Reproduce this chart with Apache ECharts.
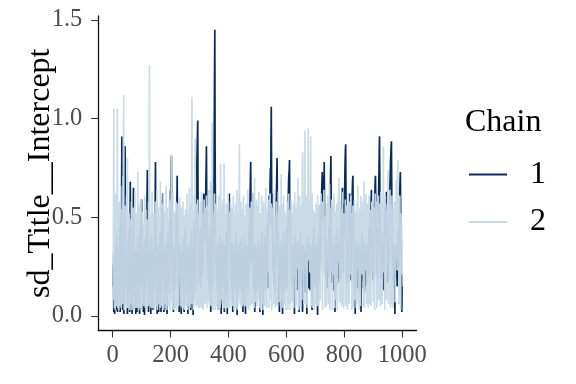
<!DOCTYPE html>
<html>
<head>
<meta charset="utf-8">
<script src="https://cdn.jsdelivr.net/npm/echarts@6/dist/echarts.min.js"></script>
<style>html,body{margin:0;padding:0;background:#fff}#c{width:576px;height:384px}</style>
</head>
<body>
<div id="c"></div>
<script>
var chainNames = ['1', '2'];
var yTicks = [0, 0.5, 1, 1.5];
var xTicks = [0, 200, 400, 600, 800, 1000];
var yTitle = 'sd_Title__Intercept';
var legendTitle = 'Chain';

var chain1 = [
0.15,0.27,0.22,0.02,0.31,0.19,0.01,0.12,0.24,0.36,0.18,0.03,0.28,0.41,0.22,0.13,0.02,0.19,0.33,0.25,
0.11,0.17,0.29,0.45,0.21,0.02,0.14,0.38,0.52,0.31,0.62,0.91,0.34,0.18,0.03,0.23,0.35,0.16,0.01,0.27,
0.48,0.66,0.86,0.55,0.33,0.21,0.12,0.19,0.29,0.14,0.01,0.25,0.37,0.22,0.11,0.31,0.44,0.19,0.02,0.42,
0.68,0.35,0.17,0.23,0.12,0.29,0.01,0.18,0.26,0.39,0.51,0.65,0.31,0.14,0.22,0.03,0.34,0.27,0.16,0.01,
0.21,0.33,0.18,0.02,0.25,0.41,0.29,0.13,0.24,0.36,0.19,0.11,0.01,0.28,0.45,0.22,0.15,0.38,0.53,0.59,
0.47,0.26,0.14,0.31,0.19,0.02,0.23,0.35,0.17,0.005,0.26,0.39,0.21,0.12,0.33,0.18,0.27,0.44,0.61,0.74,
0.52,0.29,0.16,0.02,0.24,0.32,0.19,0.11,0.27,0.38,0.22,0.01,0.17,0.29,0.41,0.26,0.14,0.34,0.21,0.03,
0.18,0.31,0.24,0.13,0.36,0.47,0.58,0.78,0.55,0.33,0.19,0.26,0.12,0.01,0.22,0.35,0.28,0.16,0.02,0.23,
0.31,0.18,0.27,0.42,0.25,0.14,0.02,0.21,0.34,0.48,0.29,0.55,0.62,0.38,0.23,0.16,0.02,0.27,0.19,0.33,
0.24,0.12,0.29,0.37,0.21,0.03,0.26,0.01,0.18,0.31,0.43,0.27,0.15,0.22,0.36,0.19,0.11,0.28,0.46,0.64,
0.58,0.72,0.81,0.49,0.32,0.21,0.14,0.26,0.18,0.02,0.24,0.35,0.28,0.16,0.31,0.22,0.13,0.37,0.45,0.52,
0.39,0.58,0.71,0.44,0.27,0.15,0.23,0.34,0.19,0.02,0.26,0.37,0.21,0.12,0.29,0.18,0.01,0.24,0.33,0.27,
0.16,0.22,0.31,0.39,0.26,0.14,0.02,0.29,0.36,0.41,0.43,0.45,0.32,0.19,0.24,0.11,0.28,0.36,0.21,0.01,
0.17,0.26,0.33,0.18,0.29,0.12,0.24,0.37,0.21,0.03,0.31,0.44,0.27,0.15,0.23,0.35,0.19,0.005,0.26,0.32,
0.48,0.29,0.17,0.25,0.36,0.22,0.13,0.41,0.56,0.68,0.77,0.84,0.92,0.99,0.63,0.38,0.21,0.29,0.16,0.34,
0.27,0.19,0.45,0.31,0.14,0.23,0.37,0.26,0.41,0.52,0.33,0.47,0.21,0.58,0.62,0.49,0.55,0.44,0.61,0.38,
0.52,0.67,0.74,0.86,0.59,0.34,0.22,0.47,0.31,0.18,0.26,0.39,0.24,0.13,0.35,0.28,0.45,0.19,0.02,0.27,
0.33,0.51,0.66,0.42,0.25,0.14,0.29,0.38,0.61,0.72,0.95,1.21,1.45,0.84,0.56,0.31,0.22,0.17,0.26,0.34,
0.21,0.12,0.28,0.37,0.19,0.03,0.25,0.33,0.18,0.27,0.41,0.23,0.14,0.31,0.01,0.22,0.36,0.29,0.17,0.24,
0.38,0.26,0.15,0.33,0.21,0.02,0.27,0.36,0.19,0.12,0.28,0.43,0.24,0.16,0.32,0.01,0.21,0.35,0.48,0.56,
0.44,0.59,0.62,0.51,0.57,0.39,0.27,0.18,0.31,0.22,0.13,0.26,0.37,0.19,0.02,0.24,0.33,0.21,0.15,0.29,
0.36,0.22,0.14,0.27,0.18,0.31,0.42,0.25,0.11,0.005,0.23,0.34,0.19,0.28,0.16,0.37,0.24,0.13,0.29,0.21,
0.33,0.17,0.26,0.39,0.22,0.12,0.28,0.35,0.19,0.02,0.24,0.31,0.18,0.27,0.41,0.23,0.14,0.32,0.01,0.25,
0.19,0.28,0.36,0.21,0.15,0.33,0.24,0.11,0.29,0.38,0.45,0.31,0.22,0.49,0.62,0.71,0.78,0.54,0.36,0.27,
0.41,0.57,0.62,0.48,0.33,0.21,0.14,0.26,0.35,0.19,0.02,0.28,0.37,0.23,0.16,0.31,0.24,0.12,0.29,0.35,
0.21,0.14,0.27,0.38,0.19,0.25,0.33,0.17,0.02,0.24,0.36,0.28,0.15,0.22,0.31,0.43,0.26,0.18,0.005,0.23,
0.34,0.27,0.16,0.29,0.41,0.25,0.13,0.22,0.37,0.31,0.19,0.28,0.46,0.33,0.21,0.14,0.39,0.52,0.44,0.58,
0.61,0.47,0.55,0.68,0.75,0.63,0.88,1.06,0.72,0.45,0.62,0.54,0.31,0.22,0.38,0.27,0.15,0.29,0.36,0.21,
0.12,0.26,0.34,0.48,0.57,0.63,0.71,0.80,0.59,0.37,0.24,0.42,0.31,0.18,0.27,0.02,0.33,0.25,0.16,0.29,
0.38,0.22,0.14,0.31,0.26,0.19,0.01,0.27,0.35,0.43,0.24,0.16,0.33,0.21,0.12,0.28,0.37,0.19,0.26,0.31,
0.45,0.36,0.22,0.14,0.29,0.51,0.62,0.69,0.72,0.74,0.79,0.47,0.41,0.52,0.38,0.27,0.18,0.33,0.24,0.15,
0.29,0.36,0.21,0.12,0.27,0.34,0.19,0.01,0.26,0.32,0.41,0.23,0.17,0.28,0.35,0.21,0.13,0.29,0.38,0.24,
0.16,0.31,0.22,0.02,0.27,0.35,0.18,0.25,0.43,0.31,0.19,0.26,0.14,0.33,0.22,0.02,0.29,0.36,0.21,0.15,
0.28,0.34,0.19,0.27,0.12,0.31,0.24,0.17,0.36,0.23,0.01,0.29,0.41,0.26,0.18,0.32,0.22,0.14,0.27,0.37,
0.21,0.13,0.28,0.35,0.19,0.26,0.34,0.22,0.03,0.29,0.38,0.24,0.15,0.31,0.46,0.27,0.18,0.33,0.24,0.16,
0.29,0.37,0.21,0.14,0.28,0.35,0.19,0.005,0.26,0.33,0.41,0.25,0.17,0.31,0.22,0.47,0.56,0.38,0.27,0.44,
0.53,0.61,0.68,0.73,0.58,0.49,0.64,0.71,0.55,0.62,0.78,0.52,0.37,0.29,0.41,0.24,0.18,0.33,0.26,0.14,
0.31,0.22,0.38,0.27,0.19,0.34,0.46,0.29,0.21,0.36,0.52,0.64,0.73,0.81,0.58,0.34,0.25,0.17,0.29,0.38,
0.24,0.13,0.31,0.27,0.19,0.35,0.22,0.02,0.28,0.41,0.33,0.21,0.15,0.26,0.34,0.45,0.31,0.19,0.27,0.23,
0.36,0.29,0.17,0.24,0.35,0.43,0.28,0.19,0.37,0.51,0.58,0.46,0.62,0.65,0.41,0.33,0.22,0.48,0.57,0.39,
0.52,0.69,0.78,0.84,0.87,0.61,0.42,0.31,0.23,0.16,0.28,0.37,0.24,0.19,0.32,0.55,0.48,0.59,0.62,0.51,
0.44,0.36,0.27,0.18,0.31,0.46,0.58,0.64,0.69,0.71,0.53,0.38,0.25,0.14,0.29,0.36,0.22,0.01,0.27,0.34,
0.19,0.26,0.38,0.22,0.14,0.31,0.27,0.18,0.35,0.24,0.12,0.29,0.37,0.21,0.16,0.33,0.26,0.02,0.24,0.31,
0.42,0.27,0.18,0.35,0.23,0.14,0.29,0.38,0.21,0.12,0.26,0.34,0.19,0.28,0.36,0.22,0.15,0.31,0.24,0.17,
0.33,0.26,0.38,0.21,0.45,0.31,0.19,0.27,0.36,0.48,0.55,0.51,0.59,0.64,0.42,0.29,0.22,0.35,0.27,0.18,
0.24,0.36,0.47,0.58,0.52,0.63,0.69,0.71,0.54,0.39,0.27,0.21,0.44,0.36,0.28,0.19,0.33,0.52,0.65,0.73,
0.84,0.91,0.68,0.47,0.36,0.28,0.19,0.31,0.24,0.42,0.35,0.22,0.14,0.29,0.37,0.21,0.13,0.28,0.46,0.55,
0.41,0.52,0.58,0.61,0.49,0.63,0.44,0.31,0.23,0.17,0.34,0.26,0.19,0.38,0.27,0.48,0.57,0.66,0.72,0.78,
0.82,0.86,0.885,0.67,0.45,0.33,0.24,0.18,0.29,0.37,0.21,0.14,0.32,0.26,0.01,0.23,0.35,0.28,0.19,0.27,
0.36,0.22,0.15,0.31,0.43,0.27,0.18,0.34,0.25,0.47,0.56,0.64,0.69,0.73,0.52,0.38,0.26,0.19,0.02,0.15
];

var chain2 = [
0.32,0.08,0.57,1.05,0.41,0.04,0.26,0.48,0.03,0.35,0.62,0.21,0.05,0.44,0.29,1.05,0.38,0.04,0.52,0.24,
0.03,0.37,0.58,0.06,0.43,0.05,0.31,0.66,0.22,0.04,0.39,0.27,0.54,0.06,0.46,0.71,0.33,1.12,0.25,0.03,
0.42,0.06,0.56,0.31,0.05,0.38,0.24,0.61,0.04,0.47,0.80,0.28,0.04,0.41,0.33,0.08,0.52,0.26,0.03,0.36,
0.23,0.49,0.06,0.37,0.58,0.21,0.03,0.43,0.29,0.05,0.55,0.34,0.06,0.46,0.03,0.31,0.63,0.24,0.04,0.39,
0.27,0.52,0.07,0.41,0.04,0.34,0.73,0.22,0.48,0.03,0.36,0.57,0.25,0.04,0.44,0.31,0.08,0.59,0.27,0.03,
0.38,0.21,0.53,0.06,0.42,0.29,0.05,0.47,0.33,0.08,0.61,0.25,0.04,0.39,0.54,0.22,0.03,0.45,0.31,0.07,
0.49,0.27,0.05,0.58,0.36,0.06,1.27,0.43,0.24,0.05,0.51,0.32,0.04,0.46,0.28,0.63,0.21,0.04,0.41,0.34,
0.05,0.52,0.26,0.03,0.44,0.31,0.58,0.06,0.37,0.05,0.48,0.25,0.64,0.33,0.03,0.42,0.21,0.55,0.29,0.06,
0.39,0.23,0.51,0.04,0.68,0.34,0.08,0.45,0.05,0.36,0.57,0.24,0.41,0.03,0.62,0.28,0.04,0.47,0.32,0.06,
0.53,0.26,0.06,0.43,0.66,0.22,0.03,0.38,0.55,0.05,0.31,0.49,0.05,0.44,0.27,0.59,0.21,0.03,0.41,0.33,
0.08,0.56,0.82,0.29,0.45,0.04,0.37,0.62,0.24,0.03,0.48,0.31,0.07,0.53,0.27,0.42,0.04,0.35,0.58,0.22,
0.03,0.46,0.29,0.57,0.08,0.39,0.05,0.52,0.34,0.21,0.44,0.60,0.26,0.05,0.48,0.31,0.55,0.05,0.38,0.04,
0.43,0.27,0.58,0.04,0.36,0.51,0.22,0.03,0.47,0.33,0.06,0.54,0.28,0.41,0.05,0.37,0.62,0.24,0.03,0.45,
0.31,0.05,0.52,0.38,0.65,0.23,0.04,0.46,0.29,0.57,0.06,0.41,0.74,1.11,0.36,0.06,0.53,0.27,0.03,0.44,
0.33,0.61,0.08,0.49,0.90,0.26,0.05,0.57,0.38,0.21,0.45,0.05,0.34,0.59,0.24,0.41,0.04,0.52,0.29,0.04,
0.46,0.31,0.58,0.05,0.39,0.26,0.63,0.04,0.44,0.33,0.52,0.21,0.03,0.47,0.36,0.59,0.24,0.41,0.06,0.55,
0.29,0.43,0.08,0.61,0.35,0.04,0.48,0.27,0.56,0.07,0.39,0.64,0.22,0.45,0.05,0.53,0.31,0.68,0.25,0.41,
0.05,0.58,0.34,0.98,0.47,0.21,0.03,0.52,0.36,0.06,0.44,0.62,0.28,0.03,0.49,0.33,0.57,0.22,0.05,0.41,
0.35,0.54,0.06,0.46,0.27,0.61,0.03,0.38,0.52,0.24,0.04,0.45,0.77,0.31,0.08,0.56,0.28,0.42,0.06,0.36,
0.59,0.23,0.47,0.04,0.77,0.34,0.06,0.51,0.28,0.03,0.43,0.32,0.57,0.21,0.38,0.04,0.49,0.26,0.62,0.05,
0.37,0.53,0.22,0.44,0.04,0.31,0.58,0.27,0.46,0.07,0.39,0.55,0.21,0.05,0.48,0.33,0.61,0.24,0.41,0.03,
0.52,0.28,0.36,0.06,0.57,0.04,0.43,0.32,0.64,0.24,0.03,0.47,0.35,0.53,0.08,0.41,0.66,0.87,0.29,0.06,
0.45,0.31,0.58,0.22,0.04,0.49,0.36,0.05,0.54,0.28,0.43,0.61,0.06,0.38,0.05,0.51,0.26,0.44,0.05,0.34,
0.57,0.23,0.42,0.04,0.53,0.31,0.64,0.08,0.39,0.03,0.47,0.29,0.55,0.21,0.36,0.05,0.49,0.33,0.58,0.26,
0.06,0.45,0.62,0.31,0.06,0.54,0.27,0.41,0.04,0.70,0.38,0.22,0.51,0.07,0.43,0.33,0.59,0.24,0.05,0.46,
0.35,0.08,0.56,0.29,0.63,0.21,0.44,0.04,0.38,0.52,0.27,0.03,0.47,0.34,0.61,0.06,0.42,0.26,0.55,0.03,
0.39,0.58,0.24,0.46,0.05,0.33,0.51,0.28,0.65,0.05,0.43,0.31,0.04,0.54,0.36,0.22,0.48,0.59,0.27,0.41,
0.04,0.53,0.34,0.62,0.23,0.44,0.08,0.57,0.31,0.03,0.46,0.37,0.21,0.55,0.29,0.64,0.06,0.42,0.26,0.51,
0.33,0.04,0.47,0.24,0.58,0.36,0.06,0.52,0.05,0.41,0.28,0.63,0.22,0.45,0.34,0.07,0.56,0.29,0.43,0.05,
0.38,0.72,0.25,0.49,0.08,0.57,0.31,0.04,0.44,0.36,0.61,0.23,0.47,0.06,0.53,0.28,0.39,0.03,0.51,0.32,
0.21,0.46,0.58,0.27,0.03,0.41,0.35,0.62,0.06,0.48,0.29,0.54,0.03,0.37,0.44,0.23,0.59,0.31,0.07,0.45,
0.52,0.26,0.38,0.04,0.57,0.34,0.21,0.49,0.63,0.28,0.04,0.43,0.36,0.55,0.05,0.41,0.24,0.58,0.32,0.70,
0.27,0.44,0.03,0.52,0.35,0.61,0.22,0.48,0.05,0.39,0.56,0.29,0.43,0.08,0.65,0.83,0.37,0.24,0.51,0.31,
0.06,0.47,0.68,0.94,0.42,0.26,0.55,0.06,0.38,0.61,0.33,0.04,0.46,0.57,0.72,0.95,0.41,0.28,0.53,0.36,
0.22,0.58,0.44,0.91,0.35,0.05,0.49,0.27,0.62,0.38,0.04,0.45,0.31,0.54,0.24,0.41,0.03,0.36,0.52,0.28,
0.43,0.06,0.57,0.33,0.46,0.05,0.38,0.61,0.25,0.49,0.34,0.05,0.44,0.56,0.29,0.41,0.08,0.53,0.36,0.62,
0.24,0.47,0.31,0.58,0.03,0.42,0.55,0.27,0.39,0.64,0.21,0.48,0.35,0.04,0.51,0.29,0.44,0.05,0.57,0.33,
0.46,0.23,0.61,0.38,0.06,0.52,0.29,0.44,0.67,0.31,0.03,0.48,0.36,0.55,0.22,0.41,0.59,0.27,0.03,0.45,
0.34,0.56,0.21,0.43,0.62,0.29,0.04,0.47,0.38,0.53,0.08,0.42,0.31,0.57,0.24,0.03,0.49,0.36,0.61,0.27,
0.44,0.70,0.33,0.07,0.51,0.39,0.58,0.22,0.45,0.05,0.37,0.54,0.28,0.63,0.06,0.46,0.34,0.04,0.52,0.41,
0.25,0.48,0.36,0.59,0.05,0.44,0.31,0.56,0.22,0.41,0.03,0.53,0.37,0.62,0.26,0.45,0.06,0.49,0.33,0.58,
0.21,0.43,0.61,0.29,0.52,0.03,0.38,0.47,0.24,0.56,0.34,0.04,0.45,0.31,0.59,0.08,0.42,0.27,0.53,0.36,
0.04,0.48,0.32,0.57,0.24,0.41,0.66,0.06,0.37,0.51,0.03,0.44,0.29,0.55,0.36,0.05,0.47,0.61,0.26,0.39,
0.53,0.21,0.44,0.33,0.58,0.05,0.46,0.68,0.31,0.04,0.42,0.55,0.27,0.38,0.62,0.23,0.49,0.06,0.36,0.57,
0.28,0.43,0.04,0.52,0.37,0.61,0.24,0.46,0.06,0.54,0.33,0.05,0.48,0.39,0.58,0.22,0.45,0.31,0.63,0.07,
0.41,0.55,0.27,0.49,0.03,0.36,0.62,0.31,0.47,0.21,0.58,0.34,0.04,0.44,0.52,0.26,0.39,0.61,0.08,0.45,
0.33,0.57,0.24,0.48,0.05,0.41,0.63,0.29,0.53,0.37,0.06,0.46,0.58,0.31,0.86,0.44,0.22,0.51,0.35,0.03,
0.47,0.61,0.26,0.39,0.54,0.08,0.43,0.32,0.57,0.28,0.74,0.45,0.06,0.52,0.36,0.23,0.49,0.64,0.31,0.04,
0.42,0.56,0.27,0.38,0.61,0.06,0.47,0.33,0.04,0.53,0.41,0.24,0.58,0.35,0.46,0.07,0.51,0.29,0.62,0.69,
0.37,0.48,0.23,0.55,0.79,0.41,0.28,0.57,0.06,0.46,0.33,0.61,0.25,0.43,0.03,0.52,0.36,0.47,0.21,0.39
];

var chainColors = ['#0a2c5c', 'rgba(199,217,231,0.95)'];
var legendColors = ['#0a2c5c', '#c6d9e7'];
var FONT = 'Liberation Serif';

function toPairs(arr) {
  return arr.map(function (v, i) { return [i + 1, v]; });
}

var chart = echarts.init(document.getElementById('c'), null, { renderer: 'canvas' });
chart.setOption({
  animation: false,
  backgroundColor: '#ffffff',
  grid: { left: 98.3, right: 159.4, top: 16, bottom: 53.5, containLabel: false },
  title: {
    text: legendTitle, left: 465, top: 106.5, padding: 0,
    textStyle: { fontFamily: FONT, fontSize: 32, fontWeight: 'normal', color: '#000', lineHeight: 32 }
  },
  legend: {
    orient: 'vertical', left: 469, top: 158.5, padding: 0,
    itemWidth: 38, itemHeight: 2, itemGap: 15.5, icon: 'rect',
    data: [
      { name: chainNames[0], itemStyle: { color: legendColors[0] } },
      { name: chainNames[1], itemStyle: { color: legendColors[1] } }
    ],
    textStyle: { fontFamily: FONT, fontSize: 32, color: '#000', lineHeight: 32, padding: [0, 0, 0, 18] }
  },
  xAxis: {
    type: 'value', min: -49.5, max: 1050,
    axisLine: { show: true, onZero: false, lineStyle: { color: '#111', width: 1.3 } },
    axisTick: { show: true, length: 7, customValues: xTicks, lineStyle: { color: '#333', width: 1.1 } },
    axisLabel: {
      customValues: xTicks, margin: 13, color: '#4d4d4d', fontFamily: FONT, fontSize: 24.5,
      formatter: function (v) { return String(v); }
    },
    splitLine: { show: false }
  },
  yAxis: {
    type: 'value', min: -0.0735, max: 1.52,
    name: yTitle, nameLocation: 'middle', nameRotate: 90, nameGap: 42, nameMoveOverlap: false,
    nameTextStyle: { fontFamily: FONT, fontSize: 32, color: '#000' },
    axisLine: { show: true, onZero: false, lineStyle: { color: '#111', width: 1.3 } },
    axisTick: { show: true, length: 7, customValues: yTicks, lineStyle: { color: '#333', width: 1.1 } },
    axisLabel: {
      customValues: yTicks, margin: 16, color: '#4d4d4d', fontFamily: FONT, fontSize: 24.5,
      formatter: function (v) { return v.toFixed(1); }
    },
    splitLine: { show: false }
  },
  series: [
    {
      name: chainNames[0], type: 'line', data: toPairs(chain1), showSymbol: false, symbol: 'none',
      sampling: null, lineStyle: { color: chainColors[0], width: 1.7 }, itemStyle: { color: legendColors[0] }, z: 2
    },
    {
      name: chainNames[1], type: 'line', data: toPairs(chain2), showSymbol: false, symbol: 'none',
      sampling: null, lineStyle: { color: chainColors[1], width: 1.7 }, itemStyle: { color: legendColors[1] }, z: 3
    }
  ]
});
</script>
</body>
</html>
